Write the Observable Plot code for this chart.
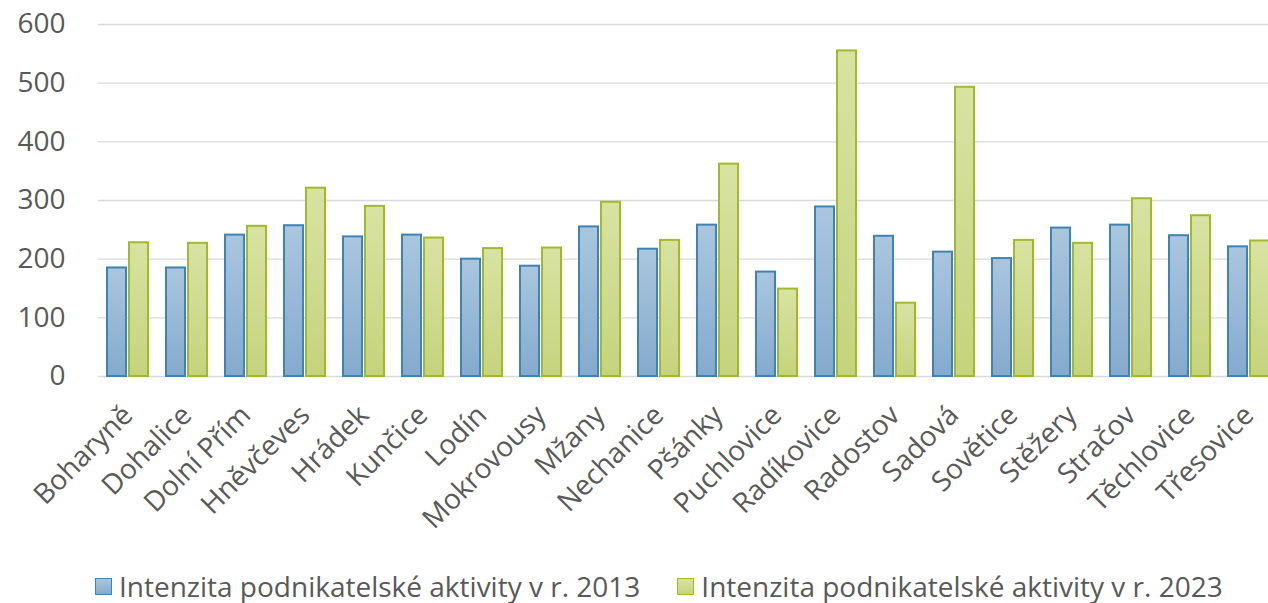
<!DOCTYPE html>
<html>
<head>
<meta charset="utf-8">
<script src="https://cdn.jsdelivr.net/npm/d3@7"></script>
<script src="https://cdn.jsdelivr.net/npm/@observablehq/plot@0.6"></script>
<style>
  html, body { margin: 0; padding: 0; background: #fff; overflow: hidden; }
  #chart { width: 1268px; }
  .legend { display: flex; align-items: center; margin-left: 95px; padding-top: 6px; height: 36px; line-height: 36px;
    font-family: "Open Sans", sans-serif; font-size: 28px; color: #595959; white-space: nowrap; }
  .legend .item { display: flex; align-items: center; margin-right: 37px; }
  .legend .sw { width: 15px; height: 15px; margin-right: 7px; box-sizing: content-box; }
</style>
</head>
<body>
<div id="chart"></div>
<script>
const categories = ["Boharyně","Dohalice","Dolní Přím","Hněvčeves","Hrádek","Kunčice","Lodín","Mokrovousy","Mžany","Nechanice","Pšánky","Puchlovice","Radíkovice","Radostov","Sadová","Sovětice","Stěžery","Stračov","Těchlovice","Třesovice"];
const values2013 = [185,185,241,257,238,241,200,188,255,217,258,178,289,239,212,201,253,258,240,221];
const values2023 = [228,227,256,321,290,236,218,219,297,232,362,149,555,125,493,232,227,303,274,231];
const seriesNames = ["Intenzita podnikatelské aktivity v r. 2013","Intenzita podnikatelské aktivity v r. 2023"];
const yTicks = [0,100,200,300,400,500,600];

const rows2013 = categories.map((c, i) => ({cat: c, series: seriesNames[0], value: values2013[i]}));
const rows2023 = categories.map((c, i) => ({cat: c, series: seriesNames[1], value: values2023[i]}));

const chart = Plot.plot({
  width: 1268,
  height: 562,
  marginLeft: 93,
  marginRight: -15,
  marginTop: 24,
  marginBottom: 186,
  style: {fontFamily: "Open Sans", color: "#595959", background: "#fff"},
  fx: {domain: categories, padding: 0, label: null},
  x: {domain: seriesNames, paddingInner: 0.1304, paddingOuter: 0.3585, axis: null},
  y: {domain: [0, 600], label: null},
  marks: [
    Plot.gridY(yTicks, {stroke: "#d9d9d9", strokeOpacity: 1, strokeWidth: 1.4}),
    Plot.axisY(yTicks, {tickSize: 0, tickPadding: 33, fontSize: 28, label: null}),
    Plot.axisFx({anchor: "bottom", tickRotate: -45, tickSize: 0, tickPadding: 34, fontSize: 28, label: null}),
    Plot.barY(rows2013, {fx: "cat", x: "series", y: "value", fill: "url(#gBlue)", stroke: "#3d84b3", strokeWidth: 2}),
    Plot.barY(rows2023, {fx: "cat", x: "series", y: "value", fill: "url(#gGreen)", stroke: "#a3b82a", strokeWidth: 2})
  ]
});

const defs = d3.select(chart).insert("defs", ":first-child");
function grad(id, top, bottom) {
  const g = defs.append("linearGradient").attr("id", id).attr("x1", 0).attr("y1", 0).attr("x2", 0).attr("y2", 1);
  g.append("stop").attr("offset", "0%").attr("stop-color", top);
  g.append("stop").attr("offset", "100%").attr("stop-color", bottom);
}
grad("gBlue", "#aac6de", "#84aacd");
grad("gGreen", "#d8e3a2", "#c5d37d");

document.getElementById("chart").appendChild(chart);

const legend = document.createElement("div");
legend.className = "legend";
const swatches = [
  {bg: "linear-gradient(#aac6de, #84aacd)", border: "#3d84b3"},
  {bg: "linear-gradient(#d8e3a2, #c5d37d)", border: "#a3b82a"}
];
seriesNames.forEach((name, i) => {
  const item = document.createElement("div");
  item.className = "item";
  const sw = document.createElement("span");
  sw.className = "sw";
  sw.style.background = swatches[i].bg;
  sw.style.border = `1.5px solid ${swatches[i].border}`;
  const t = document.createElement("span");
  t.textContent = name;
  item.appendChild(sw);
  item.appendChild(t);
  legend.appendChild(item);
});
document.getElementById("chart").appendChild(legend);
</script>
</body>
</html>
